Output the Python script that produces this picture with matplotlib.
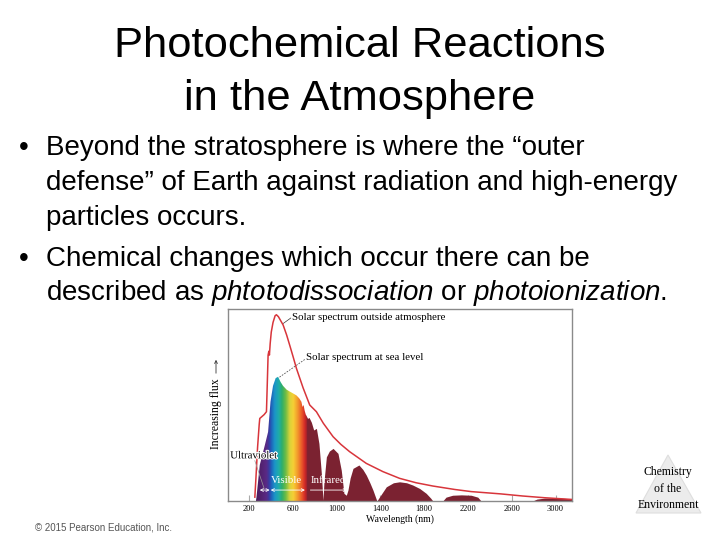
import numpy as np
import matplotlib.pyplot as plt
from matplotlib.colors import LinearSegmentedColormap
from matplotlib.patches import Polygon, FancyArrowPatch
import matplotlib.patheffects as pe

plt.rcParams['mathtext.fontset'] = 'custom'
plt.rcParams['mathtext.rm'] = 'Liberation Sans'
plt.rcParams['mathtext.it'] = 'Liberation Sans:italic'

# solar spectrum outside atmosphere (wavelength nm, relative flux)
outer_wl = [255, 265, 280, 295, 300, 320, 340, 361, 368, 376, 383, 388, 395, 405, 421, 440,
            452, 470, 490, 513, 545, 574, 605, 635, 665, 695, 756, 817, 880, 969, 1040, 1120,
            1272, 1424, 1576, 1727, 1880, 2080, 2229, 2500, 2700, 2900, 3095, 3150]
outer_flux = [2, 12, 28, 40, 43, 44, 45, 46.5, 60, 76, 78, 76, 82, 88, 93, 96.5,
              97, 96, 94, 91.7, 86.5, 81, 75, 69, 64, 59, 50, 46.5, 40.5, 33.5, 29.5, 25.7,
              19.6, 15.3, 11.8, 9.5, 7.8, 6, 4.9, 3.7, 2.6, 1.7, 1.0, 0.8]

# solar spectrum at sea level
sea_wl = [265, 270, 300, 346, 376, 398, 421, 445, 467, 490, 512, 545, 574, 605, 635, 660,
          680, 690, 700, 710, 720, 735, 750, 771, 792, 817, 840, 862, 877, 886, 908, 935,
          969, 1014, 1044, 1068, 1090, 1105, 1125, 1151, 1205, 1240, 1272, 1305, 1333, 1369,
          1394, 1455, 1520, 1576, 1640, 1697, 1760, 1819, 1860, 1880, 1970, 2000, 2060, 2140,
          2230, 2290, 2320, 2790, 2830, 2900, 3000, 3100, 3150]
sea_flux = [0, 2, 18.75, 29, 36, 51.7, 60, 64, 64.7, 62, 60, 58, 57, 56, 55, 53.5,
            51.7, 49, 50, 47, 45, 43, 43.5, 41, 37, 37.8, 30, 14.4, 0.5, 10, 23, 26,
            27.4, 24.8, 16, 4, 3, 5.7, 12, 17, 18.75, 16.5, 13.5, 9.5, 5.7, 0,
            2.2, 7.4, 9.5, 10, 9.5, 8.3, 6.5, 4, 1.5, 0, 0, 2, 3, 3.2,
            3, 2, 0, 0, 1, 1.5, 1.6, 1.3, 1.2]

xticks = [200, 600, 1000, 1400, 1800, 2200, 2600, 3000]

title_lines = ["Photochemical Reactions", "in the Atmosphere"]
title_y = [57, 110]
bullet_lines = [
    (True, "Beyond the stratosphere is where the \u201couter"),
    (False, "defense\u201d of Earth against radiation and high-energy"),
    (False, "particles occurs."),
    (True, "Chemical changes which occur there can be"),
    (False, r"described as $\mathit{phtotodissociation}$ or $\mathit{photoionization}$."),
]
bullet_y = [155, 190, 225, 266, 300]

W, H = 720, 540
fig = plt.figure(figsize=(7.2, 5.4), dpi=100)
fig.patch.set_facecolor('white')


def fx(x):
    return x / W


def fy(y):
    return 1 - y / H


# slide title
for t, y in zip(title_lines, title_y):
    fig.text(fx(360), fy(y), t, ha='center', va='baseline', fontsize=31.3,
             family='Liberation Sans')

# bullets
for (has_bullet, txt), y in zip(bullet_lines, bullet_y):
    if has_bullet:
        fig.text(fx(19), fy(y), "\u2022", va='baseline', fontsize=20, family='Liberation Sans')
    fig.text(fx(46), fy(y), txt, va='baseline', fontsize=20, family='Liberation Sans')

fig.text(fx(35), fy(530), "\u00a9 2015 Pearson Education, Inc.", va='baseline',
         fontsize=7, family='Liberation Sans', color='#555555')

# logo triangle + text
tri = Polygon([[fx(668), fy(455)], [fx(636), fy(513)], [fx(701), fy(513)]],
              closed=True, transform=fig.transFigure, facecolor='#ececec',
              edgecolor='#dedede', lw=0.8, zorder=0)
fig.patches.append(tri)
for t, y in zip(["Chemistry", "of the", "Environment"], [475, 492, 508]):
    fig.text(fx(668), fy(y), t, ha='center', va='baseline', fontsize=8.5,
             family='Liberation Serif')

# chart
ax = fig.add_axes([fx(228), fy(501), (572 - 228) / W, (501 - 309) / H])
ax.set_xlim(10, 3150)
ax.set_ylim(0, 100)

sea_wl_a = np.array(sea_wl)
sea_flux_a = np.array(sea_flux)

# infrared part in maroon
ir = sea_wl_a >= 720
ax.fill_between(sea_wl_a[ir], 0, sea_flux_a[ir], color='#7b2231', lw=0, zorder=2)

# visible/UV part with rainbow gradient
vis = sea_wl_a <= 735
poly = ax.fill_between(sea_wl_a[vis], 0, sea_flux_a[vis], color='none', lw=0, zorder=2)
rainbow = LinearSegmentedColormap.from_list('spec', [
    (0.00, '#4b1a5c'), (0.20, '#5a2a85'), (0.25, '#3a3aa0'), (0.29, '#1f5fb8'),
    (0.36, '#1b95c8'), (0.44, '#1fada8'), (0.50, '#2fae6a'), (0.57, '#6cbc45'),
    (0.65, '#d8d23a'), (0.72, '#f6cf35'), (0.80, '#f39a2c'), (0.88, '#ea5a2a'),
    (0.94, '#d42a27'), (0.98, '#a0202c'), (1.00, '#7b2231')])
grad = np.linspace(0, 1, 256).reshape(1, -1)
im = ax.imshow(grad, extent=[265, 735, 0, 100], aspect='auto', cmap=rainbow,
               zorder=2.5, interpolation='bilinear')
im.set_clip_path(poly.get_paths()[0], transform=ax.transData)

ax.plot(outer_wl, outer_flux, color='#d8353b', lw=1.1, zorder=3)

ax.set_xticks(xticks)
ax.set_yticks([])
ax.tick_params(axis='x', direction='in', length=4, color='#aaaaaa', labelsize=6, pad=3)
for lab in ax.get_xticklabels():
    lab.set_family('Liberation Serif')
for s in ax.spines.values():
    s.set_color('#8a8a8a')
    s.set_linewidth(1.0)
ax.set_xlabel("Wavelength (nm)", fontsize=7, family='Liberation Serif', labelpad=1)

serif = dict(family='Liberation Serif', fontsize=7.8)
ax.text(590, 95.5, "Solar spectrum outside atmosphere", va='center', **serif)
ax.plot([515, 583], [92.5, 95.3], color='#333333', lw=0.5)
ax.text(725, 74.5, "Solar spectrum at sea level", va='center', **serif)
ax.plot([480, 718], [64.5, 74], color='#555555', lw=0.6, ls=(0, (2, 1.5)))

t = ax.text(30, 23.5, "Ultraviolet", va='center', **serif)
t.set_path_effects([pe.withStroke(linewidth=1.5, foreground='white')])
ax.plot([255, 340], [21, 6.5], color='#999999', lw=0.5, zorder=4)

arw = dict(arrowstyle='<->', color='white', lw=0.6, shrinkA=0, shrinkB=0,
           mutation_scale=5)
ax.annotate("", xy=(300, 5.7), xytext=(390, 5.7), arrowprops=arw, zorder=5)
ax.annotate("", xy=(400, 5.7), xytext=(712, 5.7), arrowprops=arw, zorder=5)
ax.annotate("", xy=(1095, 5.7), xytext=(762, 5.7),
            arrowprops=dict(arrowstyle='->', color='white', lw=0.6, shrinkA=0,
                            shrinkB=0, mutation_scale=5), zorder=5)
ax.text(540, 10.5, "Visible", ha='center', va='center', color='white', zorder=5, **serif)
ax.text(925, 10.5, "Infrared", ha='center', va='center', color='white', zorder=5, **serif)

# y label with arrow
fig.text(fx(216), fy(414), "Increasing flux", rotation=90, ha='center', va='center',
         family='Liberation Serif', fontsize=8.5)
fig.patches.append(FancyArrowPatch(
    (fx(216), fy(376)), (fx(216), fy(357)), transform=fig.transFigure,
    arrowstyle='->', mutation_scale=5, lw=0.6, color='#333333'))

fig.savefig('out.png', dpi=100)
